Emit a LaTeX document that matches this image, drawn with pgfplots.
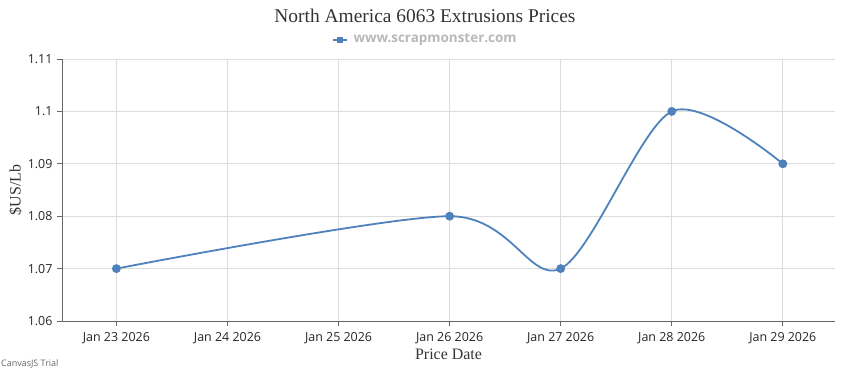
\documentclass[border=0pt]{standalone}
\usepackage{fontspec}
\setmainfont{Liberation Serif}
\newfontfamily\osans{Open Sans}
\usepackage{pgfplots}
\pgfplotsset{compat=1.18}
\definecolor{series}{HTML}{4F81BC}
\definecolor{gridc}{HTML}{DDDDDD}
\definecolor{axisc}{HTML}{666666}
\begin{document}
\begin{tikzpicture}[x=1bp,y=1bp]
\path[use as bounding box] (0,0) rectangle (850,370);
\begin{axis}[
  at={(62bp,49bp)}, anchor=south west,
  scale only axis, width=773bp, height=262bp,
  xmin=22.51, xmax=29.47,
  ymin=1.06, ymax=1.11,
  xtick={23,24,25,26,27,28,29},
  xticklabels={Jan 23 2026,Jan 24 2026,Jan 25 2026,Jan 26 2026,Jan 27 2026,Jan 28 2026,Jan 29 2026},
  ytick={1.06,1.07,1.08,1.09,1.10,1.11},
  yticklabels={1.06,1.07,1.08,1.09,1.1,1.11},
  axis lines*=left,
  axis line style={axisc, line width=0.8bp},
  tick style={axisc, line width=0.8bp},
  tick align=outside,
  major tick length=5bp,
  grid=major,
  grid style={gridc, line width=0.8bp},
  ticklabel style={font=\osans\fontsize{12.5}{14}\selectfont, text=black!85},
  xticklabel style={yshift=-3bp},
  yticklabel style={xshift=-1bp},
  xlabel={Price Date},
  ylabel={\$US/Lb},
  label style={font=\fontsize{16}{18}\selectfont, text=black!80},
  xlabel style={yshift=2bp},
  ylabel style={yshift=-1bp},
  clip=false,
]
\addplot[series, line width=1.8bp, smooth, tension=0.5,
  mark=*, mark size=3.5bp, mark options={fill=series, draw=series}]
  coordinates {(23,1.07) (26,1.08) (27,1.07) (28,1.10) (29,1.09)};
\end{axis}
\node[font=\fontsize{19.5}{22}\selectfont, text=black!80] at (425,354) {North America 6063 Extrusions Prices};
\draw[series, line width=2bp] (333,330) -- (347,330);
\fill[series] (337,327) rectangle (343,333);
\node[anchor=west, font=\osans\bfseries\fontsize{13.5}{16}\selectfont, text=black!28] at (350,330) {www.scrapmonster.com};
\node[anchor=west, font=\osans\fontsize{9}{10}\selectfont, text=black!60, inner sep=0pt] at (1,6.5) {CanvasJS Trial};
\end{tikzpicture}
\end{document}
